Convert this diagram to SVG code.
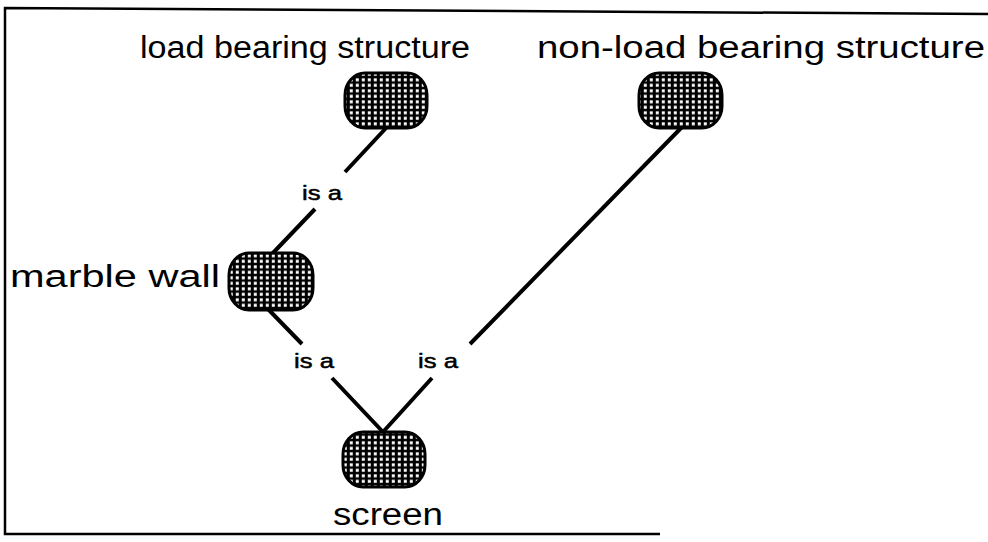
<svg xmlns="http://www.w3.org/2000/svg" width="988" height="542" viewBox="0 0 988 542">
  <defs>
    <!-- halftone fill: black ground with a grid of white dots -->
    <pattern id="dots" width="6" height="5.5" patternUnits="userSpaceOnUse">
      <rect width="6" height="5.5" fill="#000"/>
      <rect x="1.8" y="1.3" width="3" height="3" fill="#fff"/>
    </pattern>
  </defs>
  <style>
    .node { fill: url(#dots); stroke: #000; stroke-width: 3; }
    .link { stroke: #000; stroke-width: 4; fill: none; }
    .title { font-family: "Liberation Sans", "DejaVu Sans", sans-serif; font-size: 31px; fill: #000; }
    .rel { font-family: "Liberation Sans", "DejaVu Sans", sans-serif; font-size: 21px; fill: #000; stroke: #000; stroke-width: 0.5; }
  </style>
  <rect width="988" height="542" fill="#fff"/>

  <!-- frame -->
  <g id="frame" fill="none" stroke="#000" stroke-width="2.5">
    <path d="M988 14 L5 8 L5 534 L660 534"/>
  </g>

  <!-- connectors -->
  <g id="connectors">
    <path class="link" d="M387 127 L345 172 M315 209 L272 254"/>
    <path class="link" d="M268 309 L302 344 M332 378 L383 432"/>
    <path class="link" d="M682 127 L470 344 M432 378 L383 432"/>
    <text class="rel" x="322" y="200" text-anchor="middle" textLength="40" lengthAdjust="spacingAndGlyphs">is a</text>
    <text class="rel" x="314" y="368" text-anchor="middle" textLength="40" lengthAdjust="spacingAndGlyphs">is a</text>
    <text class="rel" x="438" y="368" text-anchor="middle" textLength="40" lengthAdjust="spacingAndGlyphs">is a</text>
  </g>

  <g id="load-bearing">
    <rect class="node" x="345" y="73" width="82" height="55" rx="20" ry="22"/>
    <text class="title" x="305" y="58" text-anchor="middle" textLength="330" lengthAdjust="spacingAndGlyphs">load bearing structure</text>
  </g>

  <g id="non-load-bearing">
    <rect class="node" x="639" y="73" width="83" height="55" rx="20" ry="22"/>
    <text class="title" x="761" y="58" text-anchor="middle" textLength="448" lengthAdjust="spacingAndGlyphs">non-load bearing structure</text>
  </g>

  <g id="marble-wall">
    <rect class="node" x="229" y="253" width="84" height="57" rx="20" ry="22"/>
    <text class="title" x="10" y="287" textLength="210" lengthAdjust="spacingAndGlyphs">marble wall</text>
  </g>

  <g id="screen">
    <rect class="node" x="343" y="432" width="82" height="55" rx="20" ry="22"/>
    <text class="title" x="388" y="525" text-anchor="middle" textLength="110" lengthAdjust="spacingAndGlyphs">screen</text>
  </g>
</svg>
